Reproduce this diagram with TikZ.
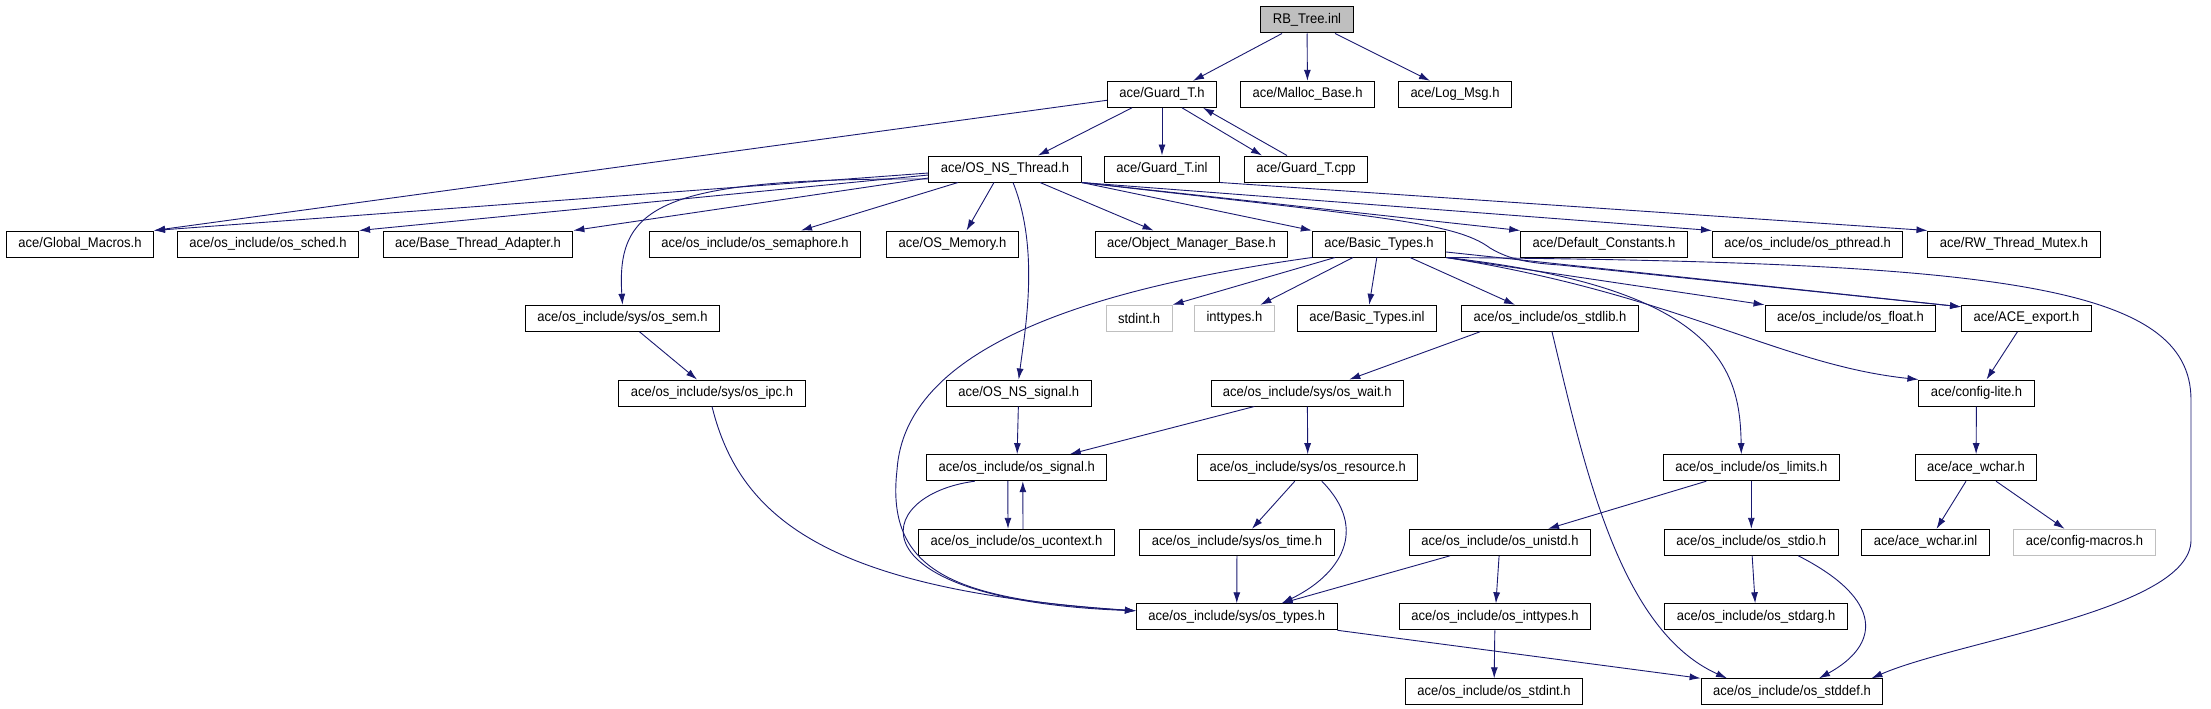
\documentclass[tikz,border=0pt]{standalone}
\usepackage{fontspec}
\setmainfont[FakeStretch=0.93]{Liberation Sans}
\usetikzlibrary{arrows.meta}
\definecolor{edgeblue}{HTML}{191970}
\definecolor{extgray}{HTML}{BFBFBF}

\begin{document}
\begin{tikzpicture}[x=1pt, y=-1pt,
    file/.style = {draw, line width=1pt, minimum height=26pt, inner xsep=12pt, inner ysep=0pt, font=\fontsize{14pt}{16pt}\selectfont},
    extfile/.style = {file, draw=extgray},
    rootfile/.style = {file, fill=extgray},
    dep/.style = {draw=edgeblue, line width=0.9pt, -{Latex[length=11pt, width=7pt]}}]
    \useasboundingbox (0,0) rectangle (2211,709);

    \node[rootfile] (root) at (1307,20) {RB\_Tree.inl};

    \node[file] (guardh) at (1162,94.3) {ace/Guard\_T.h};
    \node[file] (malloc) at (1307.5,94.3) {ace/Malloc\_Base.h};
    \node[file] (logmsg) at (1455,94.3) {ace/Log\_Msg.h};

    \node[file] (osnsthread) at (1005,169) {ace/OS\_NS\_Thread.h};
    \node[file] (guardinl) at (1162,169) {ace/Guard\_T.inl};
    \node[file] (guardcpp) at (1306,169) {ace/Guard\_T.cpp};

    \node[file] (globalmacros) at (80,244) {ace/Global\_Macros.h};
    \node[file] (ossched) at (268,244) {ace/os\_include/os\_sched.h};
    \node[file] (basethread) at (478,244) {ace/Base\_Thread\_Adapter.h};
    \node[file] (ossemaphore) at (755,244) {ace/os\_include/os\_semaphore.h};
    \node[file] (osmemory) at (952.5,244) {ace/OS\_Memory.h};
    \node[file] (objmgr) at (1191.5,244) {ace/Object\_Manager\_Base.h};
    \node[file] (basictypes) at (1379,244) {ace/Basic\_Types.h};
    \node[file] (defconst) at (1604,244) {ace/Default\_Constants.h};
    \node[file] (ospthread) at (1807.7,244) {ace/os\_include/os\_pthread.h};
    \node[file] (rwmutex) at (2014,244) {ace/RW\_Thread\_Mutex.h};

    \node[file] (syssem) at (622.5,318.3) {ace/os\_include/sys/os\_sem.h};
    \node[extfile] (stdint) at (1139,318.3) {stdint.h};
    \node[extfile] (inttypes) at (1234.4,318.3) {inttypes.h};
    \node[file] (basicinl) at (1367,318.3) {ace/Basic\_Types.inl};
    \node[file] (osstdlib) at (1550,318.3) {ace/os\_include/os\_stdlib.h};
    \node[file] (osfloat) at (1850.5,318.3) {ace/os\_include/os\_float.h};
    \node[file] (aceexport) at (2026.4,318.3) {ace/ACE\_export.h};

    \node[file] (sysipc) at (712,393) {ace/os\_include/sys/os\_ipc.h};
    \node[file] (nssignal) at (1018.7,393) {ace/OS\_NS\_signal.h};
    \node[file] (syswait) at (1307.3,393) {ace/os\_include/sys/os\_wait.h};
    \node[file] (configlite) at (1976.5,393) {ace/config-lite.h};

    \node[file] (ossignal) at (1016.8,467.7) {ace/os\_include/os\_signal.h};
    \node[file] (sysresource) at (1307.8,467.7) {ace/os\_include/sys/os\_resource.h};
    \node[file] (oslimits) at (1751.3,467.7) {ace/os\_include/os\_limits.h};
    \node[file] (acewchar) at (1976,467.7) {ace/ace\_wchar.h};

    \node[file] (osucontext) at (1016.5,542.3) {ace/os\_include/os\_ucontext.h};
    \node[file] (systime) at (1237,542.3) {ace/os\_include/sys/os\_time.h};
    \node[file] (osunistd) at (1500,542.3) {ace/os\_include/os\_unistd.h};
    \node[file] (osstdio) at (1751.3,542.3) {ace/os\_include/os\_stdio.h};
    \node[file] (wcharinl) at (1925.5,542.3) {ace/ace\_wchar.inl};
    \node[extfile] (configmacros) at (2084.5,542.3) {ace/config-macros.h};

    \node[file] (systypes) at (1236.7,616.8) {ace/os\_include/sys/os\_types.h};
    \node[file] (osinttypes) at (1495,616.8) {ace/os\_include/os\_inttypes.h};
    \node[file] (osstdarg) at (1756,616.8) {ace/os\_include/os\_stdarg.h};

    \node[file] (osstdint) at (1494,691.8) {ace/os\_include/os\_stdint.h};
    \node[file] (osstddef) at (1792,691.8) {ace/os\_include/os\_stddef.h};

    \draw[dep] ([xshift=-25pt]root.south) -- ([xshift=31pt]guardh.north);
    \draw[dep] (root) -- (malloc);
    \draw[dep] ([xshift=28pt]root.south) -- ([xshift=-25pt]logmsg.north);

    \draw[dep] ([yshift=-6pt]guardh.west) -- (globalmacros.north east);
    \draw[dep] ([xshift=-30pt]guardh.south) -- ([xshift=33pt]osnsthread.north);
    \draw[dep] (guardh) -- (guardinl);
    \draw[dep] ([xshift=20pt]guardh.south) -- ([xshift=-44pt]guardcpp.north);
    \draw[dep] ([xshift=-19pt]guardcpp.north) -- ([xshift=41pt]guardh.south);
    \draw[dep] (guardinl.south east) -- (rwmutex.north west);

    \draw[dep] ([yshift=-4pt]osnsthread.west) -- (globalmacros.north east);
    \draw[dep] ([yshift=-6pt]osnsthread.west) -- (ossched.north east);
    \draw[dep] ([yshift=-9pt]osnsthread.west) -- (basethread.north east);
    \draw[dep] ([yshift=-10pt]osnsthread.west) .. controls (660,178) and (616,205) .. (syssem.north);
    \draw[dep] ([xshift=-47pt]osnsthread.south) -- ([xshift=46pt]ossemaphore.north);
    \draw[dep] ([xshift=-11pt]osnsthread.south) -- ([xshift=14pt]osmemory.north);
    \draw[dep] ([xshift=8pt]osnsthread.south) .. controls (1040,250) and (1025,330) .. (nssignal.north);
    \draw[dep] ([xshift=35pt]osnsthread.south) -- ([xshift=-38pt]objmgr.north);
    \draw[dep] (osnsthread.south east) -- (basictypes.north west);
    \draw[dep] (osnsthread.south east) -- (defconst.north west);
    \draw[dep] (osnsthread.south east) -- (ospthread.north west);
    \draw[dep] (osnsthread.south east) .. controls (1380,217) and (1455,222) .. (1490,248) .. controls (1510,260) and (1530,263) .. (1560,265) -- ([yshift=-2pt]aceexport.north west);

    \draw[dep] (basictypes.south west) .. controls (1080,290) and (905,350) .. (897,470) .. controls (885,575) and (960,600) .. ([yshift=6pt]systypes.west);
    \draw[dep] ([xshift=-44pt]basictypes.south) -- (stdint.north east);
    \draw[dep] ([xshift=-26pt]basictypes.south) -- ([xshift=26pt]inttypes.north);
    \draw[dep] (basictypes) -- (basicinl);
    \draw[dep] ([xshift=31pt]basictypes.south) -- ([xshift=-35pt]osstdlib.north);
    \draw[dep] (basictypes.south east) -- (osfloat.north west);
    \draw[dep] ([yshift=-8pt]basictypes.east) -- ([yshift=-2pt]aceexport.north west);
    \draw[dep] (basictypes.south east) .. controls (1680,295) and (1780,365) .. (configlite.north west);
    \draw[dep] (basictypes.south east) .. controls (1720,288) and (1740,370) .. ([xshift=-10pt]oslimits.north);
    \draw[dep] (basictypes.south east) .. controls (2000,262) and (2191,285) .. (2191,400) -- (2191,540) .. controls (2191,610) and (1960,640) .. ([xshift=-12pt]osstddef.north east);

    \draw[dep] ([xshift=17pt]syssem.south) -- ([xshift=-15pt]sysipc.north);
    \draw[dep] (sysipc.south) .. controls (740,520) and (830,590) .. ([yshift=6pt]systypes.west);
    \draw[dep] ([xshift=-70pt]osstdlib.south) -- ([xshift=42pt]syswait.north);
    \draw[dep] ([xshift=2pt]osstdlib.south) .. controls (1585,470) and (1620,630) .. ([xshift=-65pt]osstddef.north);
    \draw[dep] ([xshift=-9pt]aceexport.south) -- ([xshift=10pt]configlite.north);

    \draw[dep] (nssignal) -- (ossignal);
    \draw[dep] ([xshift=-53pt]syswait.south) -- ([xshift=53pt]ossignal.north);
    \draw[dep] (syswait) -- (sysresource);
    \draw[dep] (configlite) -- (acewchar);

    \draw[dep] ([xshift=-9pt]ossignal.south) -- ([xshift=-8.5pt]osucontext.north);
    \draw[dep] ([xshift=6.5pt]osucontext.north) -- ([xshift=6pt]ossignal.south);
    \draw[dep] ([xshift=-42pt]ossignal.south) .. controls (870,495) and (850,600) .. ([yshift=6pt]systypes.west);
    \draw[dep] ([xshift=-13pt]sysresource.south) -- ([xshift=15pt]systime.north);
    \draw[dep] ([xshift=14pt]sysresource.south) .. controls (1370,530) and (1340,575) .. ([xshift=45pt]systypes.north);
    \draw[dep] ([xshift=-45pt]oslimits.south) -- ([xshift=48pt]osunistd.north);
    \draw[dep] (oslimits) -- (osstdio);
    \draw[dep] ([xshift=-10pt]acewchar.south) -- ([xshift=11pt]wcharinl.north);
    \draw[dep] ([xshift=20pt]acewchar.south) -- ([xshift=-20pt]configmacros.north);

    \draw[dep] (systime) -- (systypes);
    \draw[dep] ([xshift=-50pt]osunistd.south) -- ([xshift=45pt]systypes.north);
    \draw[dep] (osunistd) -- (osinttypes);
    \draw[dep] (osstdio) -- (osstdarg);
    \draw[dep] ([xshift=47pt]osstdio.south) .. controls (1885,600) and (1880,645) .. ([xshift=27pt]osstddef.north);

    \draw[dep] (systypes.south east) -- (osstddef.north west);
    \draw[dep] (osinttypes) -- (osstdint);
\end{tikzpicture}
\end{document}
